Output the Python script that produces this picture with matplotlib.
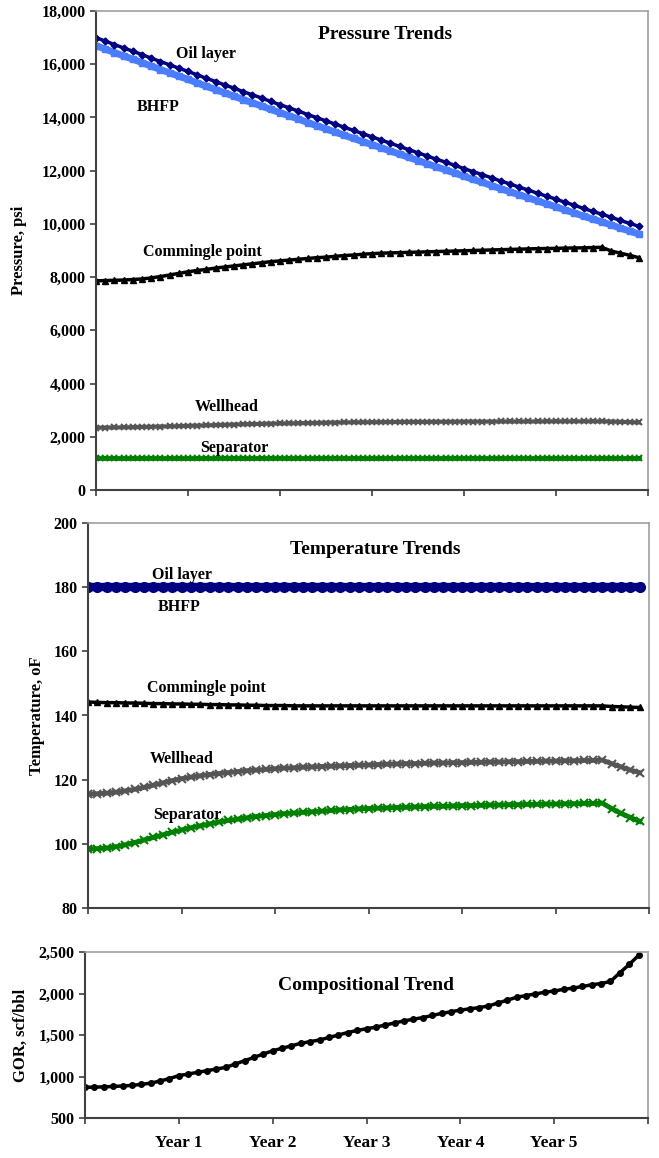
import numpy as np
import matplotlib
matplotlib.use("Agg")
import matplotlib.pyplot as plt
from matplotlib.ticker import FuncFormatter

plt.rcParams['font.family'] = ['Liberation Serif', 'DejaVu Serif']
plt.rcParams['font.weight'] = 'bold'

# time axis (years), 0.1 year steps
t = np.round(np.arange(0, 6.0, 0.1), 1)

# ---- pressure, psi
oil_p = [17000, 16870, 16740, 16610, 16490, 16360, 16230, 16100, 15980, 15850,
         15730, 15600, 15470, 15350, 15220, 15100, 14970, 14850, 14730, 14600,
         14480, 14360, 14240, 14110, 13990, 13870, 13750, 13630, 13510, 13390,
         13270, 13150, 13030, 12910, 12790, 12670, 12550, 12430, 12320, 12200,
         12080, 11960, 11850, 11730, 11610, 11500, 11380, 11270, 11150, 11040,
         10930, 10810, 10700, 10580, 10470, 10360, 10250, 10130, 10020, 9910]
bhfp_p = [16700, 16570, 16440, 16310, 16190, 16060, 15930, 15800, 15680, 15550,
          15430, 15300, 15170, 15050, 14920, 14800, 14670, 14550, 14430, 14300,
          14180, 14060, 13940, 13810, 13690, 13570, 13450, 13330, 13210, 13090,
          12980, 12860, 12740, 12620, 12500, 12380, 12260, 12140, 12030, 11910,
          11790, 11670, 11560, 11440, 11320, 11210, 11090, 10980, 10860, 10750,
          10640, 10520, 10410, 10290, 10180, 10070, 9960, 9840, 9730, 9620]
comm_p = [7860, 7870, 7880, 7890, 7910, 7930, 7970, 8020, 8080, 8140,
          8200, 8250, 8290, 8340, 8380, 8420, 8460, 8500, 8540, 8580,
          8610, 8640, 8670, 8700, 8730, 8750, 8780, 8810, 8830, 8860,
          8880, 8900, 8910, 8920, 8930, 8940, 8950, 8960, 8970, 8980,
          8990, 9000, 9010, 9020, 9030, 9040, 9050, 9060, 9070, 9075,
          9080, 9090, 9095, 9100, 9110, 9120, 8980, 8900, 8820, 8730]
well_p = [2340, 2345, 2350, 2355, 2360, 2370, 2375, 2385, 2390, 2400,
          2410, 2420, 2430, 2440, 2450, 2460, 2470, 2480, 2485, 2495,
          2500, 2505, 2510, 2515, 2520, 2530, 2535, 2540, 2545, 2545,
          2550, 2550, 2555, 2555, 2560, 2560, 2560, 2565, 2565, 2565,
          2570, 2570, 2570, 2570, 2575, 2575, 2575, 2575, 2575, 2580,
          2580, 2580, 2580, 2580, 2580, 2580, 2570, 2560, 2550, 2540]
sep_p = [1200, 1200, 1200, 1200, 1200, 1200, 1200, 1200, 1200, 1200,
         1200, 1200, 1200, 1200, 1200, 1200, 1200, 1200, 1200, 1200,
         1200, 1200, 1200, 1200, 1200, 1200, 1200, 1200, 1200, 1200,
         1200, 1200, 1200, 1200, 1200, 1200, 1200, 1200, 1200, 1200,
         1200, 1200, 1200, 1200, 1200, 1200, 1200, 1200, 1200, 1200,
         1200, 1200, 1200, 1200, 1200, 1200, 1200, 1200, 1200, 1200]

# ---- temperature, oF
oil_t = [180, 180, 180, 180, 180, 180, 180, 180, 180, 180,
         180, 180, 180, 180, 180, 180, 180, 180, 180, 180,
         180, 180, 180, 180, 180, 180, 180, 180, 180, 180,
         180, 180, 180, 180, 180, 180, 180, 180, 180, 180,
         180, 180, 180, 180, 180, 180, 180, 180, 180, 180,
         180, 180, 180, 180, 180, 180, 180, 180, 180, 180]
bhfp_t = [180, 180, 180, 180, 180, 180, 180, 180, 180, 180,
          180, 180, 180, 180, 180, 180, 180, 180, 180, 180,
          180, 180, 180, 180, 180, 180, 180, 180, 180, 180,
          180, 180, 180, 180, 180, 180, 180, 180, 180, 180,
          180, 180, 180, 180, 180, 180, 180, 180, 180, 180,
          180, 180, 180, 180, 180, 180, 180, 180, 180, 180]
comm_t = [144.2, 144.1, 144.0, 144.0, 143.9, 143.9, 143.8, 143.7, 143.7, 143.6,
          143.6, 143.5, 143.5, 143.4, 143.4, 143.3, 143.3, 143.2, 143.2, 143.1,
          143.1, 143.1, 143.0, 143.0, 143.0, 143.0, 143.0, 143.0, 143.0, 143.0,
          143.0, 143.0, 143.0, 143.0, 143.0, 143.0, 143.0, 143.0, 143.0, 143.0,
          143.0, 143.0, 143.0, 143.0, 143.0, 143.0, 143.0, 143.0, 143.0, 143.0,
          143.0, 143.0, 143.0, 143.0, 143.0, 143.0, 142.8, 142.7, 142.6, 142.5]
well_t = [115.5, 115.6, 115.8, 116.1, 116.5, 117.0, 117.6, 118.3, 119.0, 119.7,
          120.3, 120.8, 121.2, 121.6, 121.9, 122.2, 122.5, 122.8, 123.0, 123.2,
          123.4, 123.6, 123.7, 123.9, 124.0, 124.1, 124.2, 124.3, 124.4, 124.5,
          124.6, 124.7, 124.8, 124.9, 125.0, 125.0, 125.1, 125.2, 125.2, 125.3,
          125.3, 125.4, 125.4, 125.5, 125.5, 125.6, 125.6, 125.7, 125.7, 125.8,
          125.8, 125.9, 125.9, 126.0, 126.0, 126.1, 125.0, 124.0, 123.0, 122.2]
sep_t = [98.4, 98.5, 98.7, 99.1, 99.7, 100.4, 101.2, 102.0, 102.8, 103.6,
         104.3, 105.0, 105.6, 106.2, 106.8, 107.3, 107.7, 108.1, 108.5, 108.8,
         109.1, 109.4, 109.6, 109.8, 110.0, 110.2, 110.4, 110.6, 110.7, 110.9,
         111.0, 111.1, 111.2, 111.3, 111.4, 111.5, 111.6, 111.7, 111.7, 111.8,
         111.9, 111.9, 112.0, 112.1, 112.1, 112.2, 112.2, 112.3, 112.3, 112.4,
         112.4, 112.5, 112.5, 112.6, 112.6, 112.7, 111.0, 109.5, 108.2, 107.0]

# ---- GOR, scf/bbl
gor = [870, 872, 875, 880, 886, 893, 905, 920, 945, 975,
       1010, 1030, 1050, 1070, 1090, 1110, 1150, 1190, 1230, 1270,
       1310, 1340, 1370, 1400, 1420, 1440, 1470, 1500, 1530, 1555,
       1575, 1595, 1620, 1645, 1670, 1690, 1710, 1735, 1760, 1780,
       1800, 1815, 1830, 1850, 1885, 1920, 1955, 1975, 1995, 2015,
       2030, 2050, 2065, 2085, 2105, 2120, 2145, 2250, 2350, 2460]

year_labels = ['', 'Year 1', 'Year 2', 'Year 3', 'Year 4', 'Year 5', '']

W, H = 659, 1158
fig = plt.figure(figsize=(W / 100, H / 100), dpi=100)


def box(l, r, top, bot):
    return [l / W, (H - bot) / H, (r - l) / W, (bot - top) / H]


def style(ax):
    for s in ['top', 'right']:
        ax.spines[s].set_color('#a0a0a0')
        ax.spines[s].set_linewidth(1.2)
    for s in ['left', 'bottom']:
        ax.spines[s].set_color('#404040')
        ax.spines[s].set_linewidth(1.5)
    ax.tick_params(direction='out', length=4, width=1.2, color='#404040',
                   labelsize=11.5)
    ax.set_xlim(0, 6)
    ax.set_xticks(range(7))


comma = FuncFormatter(lambda v, p: f'{int(v):,}')
lab = dict(fontsize=11.5, ha='center', va='center')

# ---------------- pressure
ax1 = fig.add_axes(box(96, 648, 11, 490))
style(ax1)
ax1.plot(t, bhfp_p, color='#4a7dff', lw=5, marker='s', ms=4)
ax1.plot(t, oil_p, color='#000080', lw=2.5, marker='D', ms=3.5)
ax1.plot(t, comm_p, color='black', lw=2.5, marker='^', ms=4.5)
ax1.plot(t, well_p, color='#555555', lw=3, marker='x', ms=4.5, mew=1.5)
ax1.plot(t, sep_p, color='#008000', lw=3.5, marker='x', ms=4, mew=1.5)
ax1.set_ylim(0, 18000)
ax1.set_yticks(range(0, 18001, 2000))
ax1.yaxis.set_major_formatter(comma)
ax1.set_xticklabels([])
ax1.set_ylabel('Pressure, psi', fontsize=12, fontweight='bold')
ax1.yaxis.set_label_coords(-0.125, 0.5)
ax1.text(3.14, 17100, 'Pressure Trends', fontsize=14, ha='center', va='center')
ax1.text(1.2, 16385, 'Oil layer', **lab)
ax1.text(0.68, 14390, 'BHFP', **lab)
ax1.text(1.16, 8944, 'Commingle point', **lab)
ax1.text(1.42, 3120, 'Wellhead', **lab)
ax1.text(1.5, 1580, 'Separator', **lab)

# ---------------- temperature
ax2 = fig.add_axes(box(88, 649, 523, 908))
style(ax2)
ax2.plot(t, bhfp_t, color='#4a7dff', lw=5, marker='s', ms=4)
ax2.plot(t, oil_t, color='#000080', lw=6, marker='o', ms=7)
ax2.plot(t, comm_t, color='black', lw=2.5, marker='^', ms=5)
ax2.plot(t, well_t, color='#555555', lw=3.5, marker='x', ms=6, mew=1.5)
ax2.plot(t, sep_t, color='#008000', lw=3.5, marker='x', ms=6, mew=1.5)
ax2.set_ylim(80, 200)
ax2.set_yticks(range(80, 201, 20))
ax2.set_xticklabels([])
ax2.set_ylabel('Temperature, oF', fontsize=12, fontweight='bold')
ax2.yaxis.set_label_coords(-0.077, 0.5)
ax2.text(3.07, 191.6, 'Temperature Trends', fontsize=14, ha='center', va='center')
ax2.text(1.0, 183.8, 'Oil layer', **lab)
ax2.text(0.98, 173.8, 'BHFP', **lab)
ax2.text(1.27, 148.6, 'Commingle point', **lab)
ax2.text(1.0, 126.4, 'Wellhead', **lab)
ax2.text(1.06, 109.0, 'Separator', **lab)

# ---------------- GOR
ax3 = fig.add_axes(box(85, 648, 952, 1118))
style(ax3)
ax3.plot(t, gor, color='black', lw=2.5, marker='o', ms=4)
ax3.set_ylim(500, 2500)
ax3.set_yticks(range(500, 2501, 500))
ax3.yaxis.set_major_formatter(comma)
ax3.set_xticklabels(year_labels, fontsize=12.5)
ax3.tick_params(axis='x', pad=8)
ax3.set_ylabel('GOR, scf/bbl', fontsize=12, fontweight='bold')
ax3.yaxis.set_label_coords(-0.1, 0.5)
ax3.text(3.0, 2100, 'Compositional Trend', fontsize=14, ha='center', va='center')

fig.savefig('out.png', dpi=100)
